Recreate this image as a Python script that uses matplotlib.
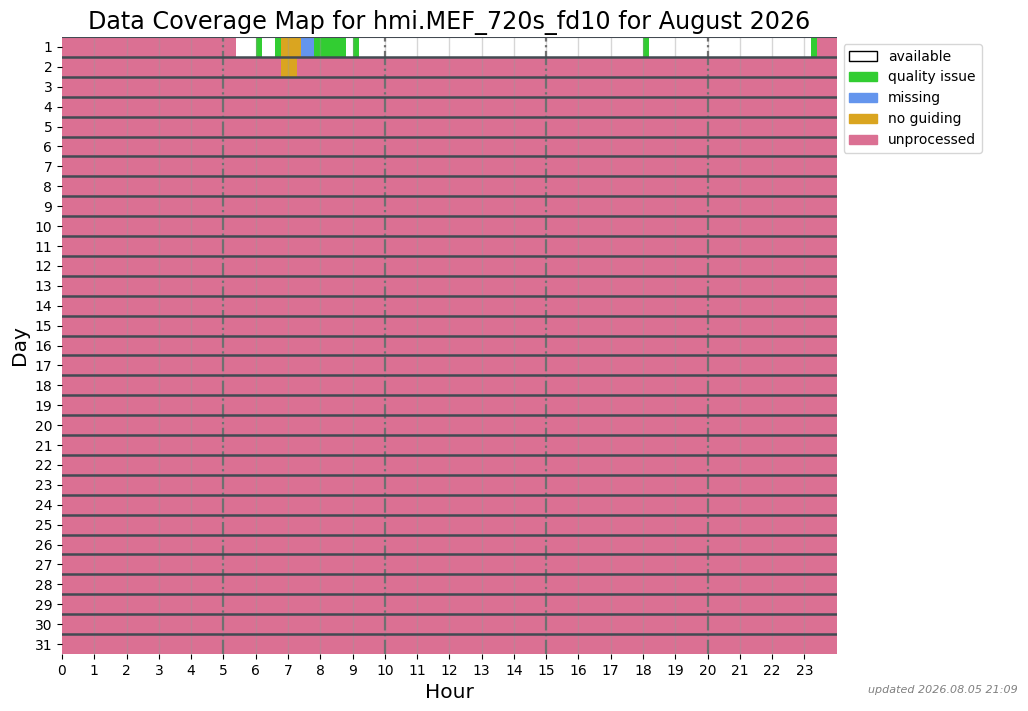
import matplotlib
matplotlib.use("Agg")
import matplotlib.pyplot as plt
from matplotlib.patches import Patch

# ---- data ----
title = "Data Coverage Map for hmi.MEF_720s_fd10 for August 2026"
days = list(range(1, 32))
hours = list(range(0, 24))
status_names = ["available", "quality issue", "missing", "no guiding", "unprocessed"]
status_colors = ["white", "#32CD32", "#6495ED", "#DAA520", "#DB7093"]

# (start hour, end hour, status index) per day; days not listed are fully unprocessed
day1_starts = [0.0, 5.4, 6.0, 6.2, 6.6, 6.8, 7.4, 7.8, 8.8, 9.0, 9.2, 18.0, 18.2, 23.2, 23.4]
day1_ends   = [5.4, 6.0, 6.2, 6.6, 6.8, 7.4, 7.8, 8.8, 9.0, 9.2, 18.0, 18.2, 23.2, 23.4, 24.0]
day1_status = [4, 0, 1, 0, 1, 3, 2, 1, 0, 1, 0, 1, 0, 1, 4]
day2_starts = [0.0, 6.8, 7.27]
day2_ends   = [6.8, 7.27, 24.0]
day2_status = [4, 3, 4]
updated = "updated 2026.08.05 21:09"
marker_hours = [5, 10, 15, 20]

segments = {1: (day1_starts, day1_ends, day1_status),
            2: (day2_starts, day2_ends, day2_status)}

fig = plt.figure(figsize=(10.28, 7.11), dpi=100)
ax = fig.add_axes([0.0603, 0.0802, 0.7536, 0.8677])

for d in days:
    if d in segments:
        s, e, st = segments[d]
    else:
        s, e, st = [0.0], [24.0], [4]
    for a, b, k in zip(s, e, st):
        ax.barh(d, b - a, left=a, height=1.0, color=status_colors[k],
                edgecolor="none", linewidth=0, zorder=1)

# hourly light grid
for h in hours[1:]:
    ax.axvline(h, color="#999999", alpha=0.4, lw=1.0, zorder=2)
# 5-hour markers
for h in marker_hours:
    ax.axvline(h, color="#707070", lw=1.6, ls="-.", zorder=3)
# day separators
for d in days[:-1]:
    ax.axhline(d + 0.5, color="#434a52", lw=1.8, zorder=4)
ax.axhline(0.5, color="#434a52", lw=1.5, zorder=4)

ax.set_xlim(0, 24)
ax.set_ylim(31.5, 0.5)
ax.set_xticks(hours)
ax.set_xticklabels([str(h) for h in hours], fontsize=10)
ax.set_yticks(days)
ax.set_yticklabels([str(d) for d in days], fontsize=10)
for sp in ax.spines.values():
    sp.set_visible(False)
ax.set_xlabel("Hour", fontsize=14.5)
ax.set_ylabel("Day", fontsize=14.5)
ax.set_title(title, fontsize=17.2)

handles = [Patch(facecolor=c, edgecolor=("black" if c == "white" else c), label=n)
           for n, c in zip(status_names, status_colors)]
ax.legend(handles=handles, loc="upper left", bbox_to_anchor=(1.0, 1.0), fontsize=10)

fig.text(0.99, 0.022, updated, ha="right", va="bottom", fontsize=8,
         style="italic", color="gray")

fig.savefig("out.png", dpi=100)
